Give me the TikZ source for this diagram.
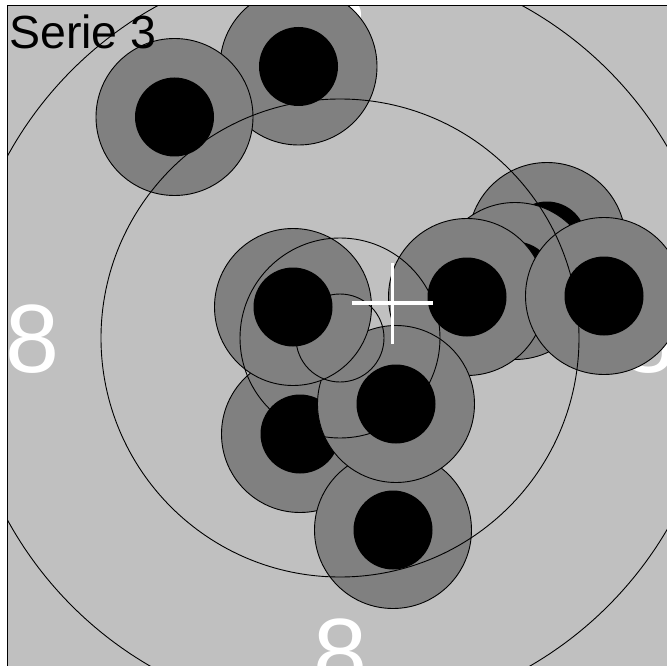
\documentclass[tikz,border=0pt]{standalone}
\usepackage{fontspec}
\setmainfont{Liberation Sans}
\definecolor{bggrey}{RGB}{192,192,192}
\definecolor{shotgrey}{RGB}{128,128,128}
\tikzset{
  shotring/.style={fill=shotgrey, draw=black, line width=0.9pt},
  shotcore/.style={fill=black},
  ringline/.style={draw=black, line width=0.9pt},
  ringnum/.style={text=white, font=\fontsize{97}{97}\selectfont, inner sep=0pt, anchor=base},
  crossline/.style={draw=white, line width=3.3pt},
}
\newcommand\myshot[2]{%
  \draw[shotring] (#1,#2) circle[radius=78.5pt];
  \fill[shotcore] (#1,#2) circle[radius=39.5pt];}
\begin{document}
\begin{tikzpicture}[x=1pt,y=-1pt]
\useasboundingbox (0,0) rectangle (667,666);
\fill[white] (0,0) rectangle (667,666);
\begin{scope}
\clip (7.3,5.6) rectangle (667,666);
\fill[bggrey] (7.3,5.6) rectangle (667,666);
% ring numbers
\node[ringnum] (nleft) at (32.5,372) {8};
\node[ringnum] (nright) at (648,372) {8};
\node[ringnum] (ntop) at (340,65.5) {8};
\node[ringnum] (nbottom) at (340,686) {8};
% shots
\myshot{298.5}{66.5}
\myshot{174.5}{117}
\myshot{547}{241}
\myshot{515}{281}
\myshot{467}{297}
\myshot{604}{296}
\myshot{300}{434}
\myshot{393}{530}
\myshot{396}{404}
\myshot{293}{307}
% rings
\coordinate (c) at (340,338);
\draw[ringline] (c) circle[radius=44pt];
\draw[ringline] (c) circle[radius=100pt];
\draw[ringline] (c) circle[radius=239pt];
\draw[ringline] (c) circle[radius=379pt];
% aiming cross
\coordinate (xc) at (392.5,303);
\draw[crossline] ([xshift=-40.5pt]xc) -- ([xshift=40.5pt]xc);
\draw[crossline] ([yshift=-40.5pt]xc) -- ([yshift=40.5pt]xc);
\end{scope}
\draw[line width=1.3pt] (7.3,666) -- (7.3,5.6) -- (667,5.6);
\node[font=\fontsize{46.5}{46.5}\selectfont, inner sep=0pt, anchor=base west] (title) at (9,49) {Serie 3};
\end{tikzpicture}
\end{document}
